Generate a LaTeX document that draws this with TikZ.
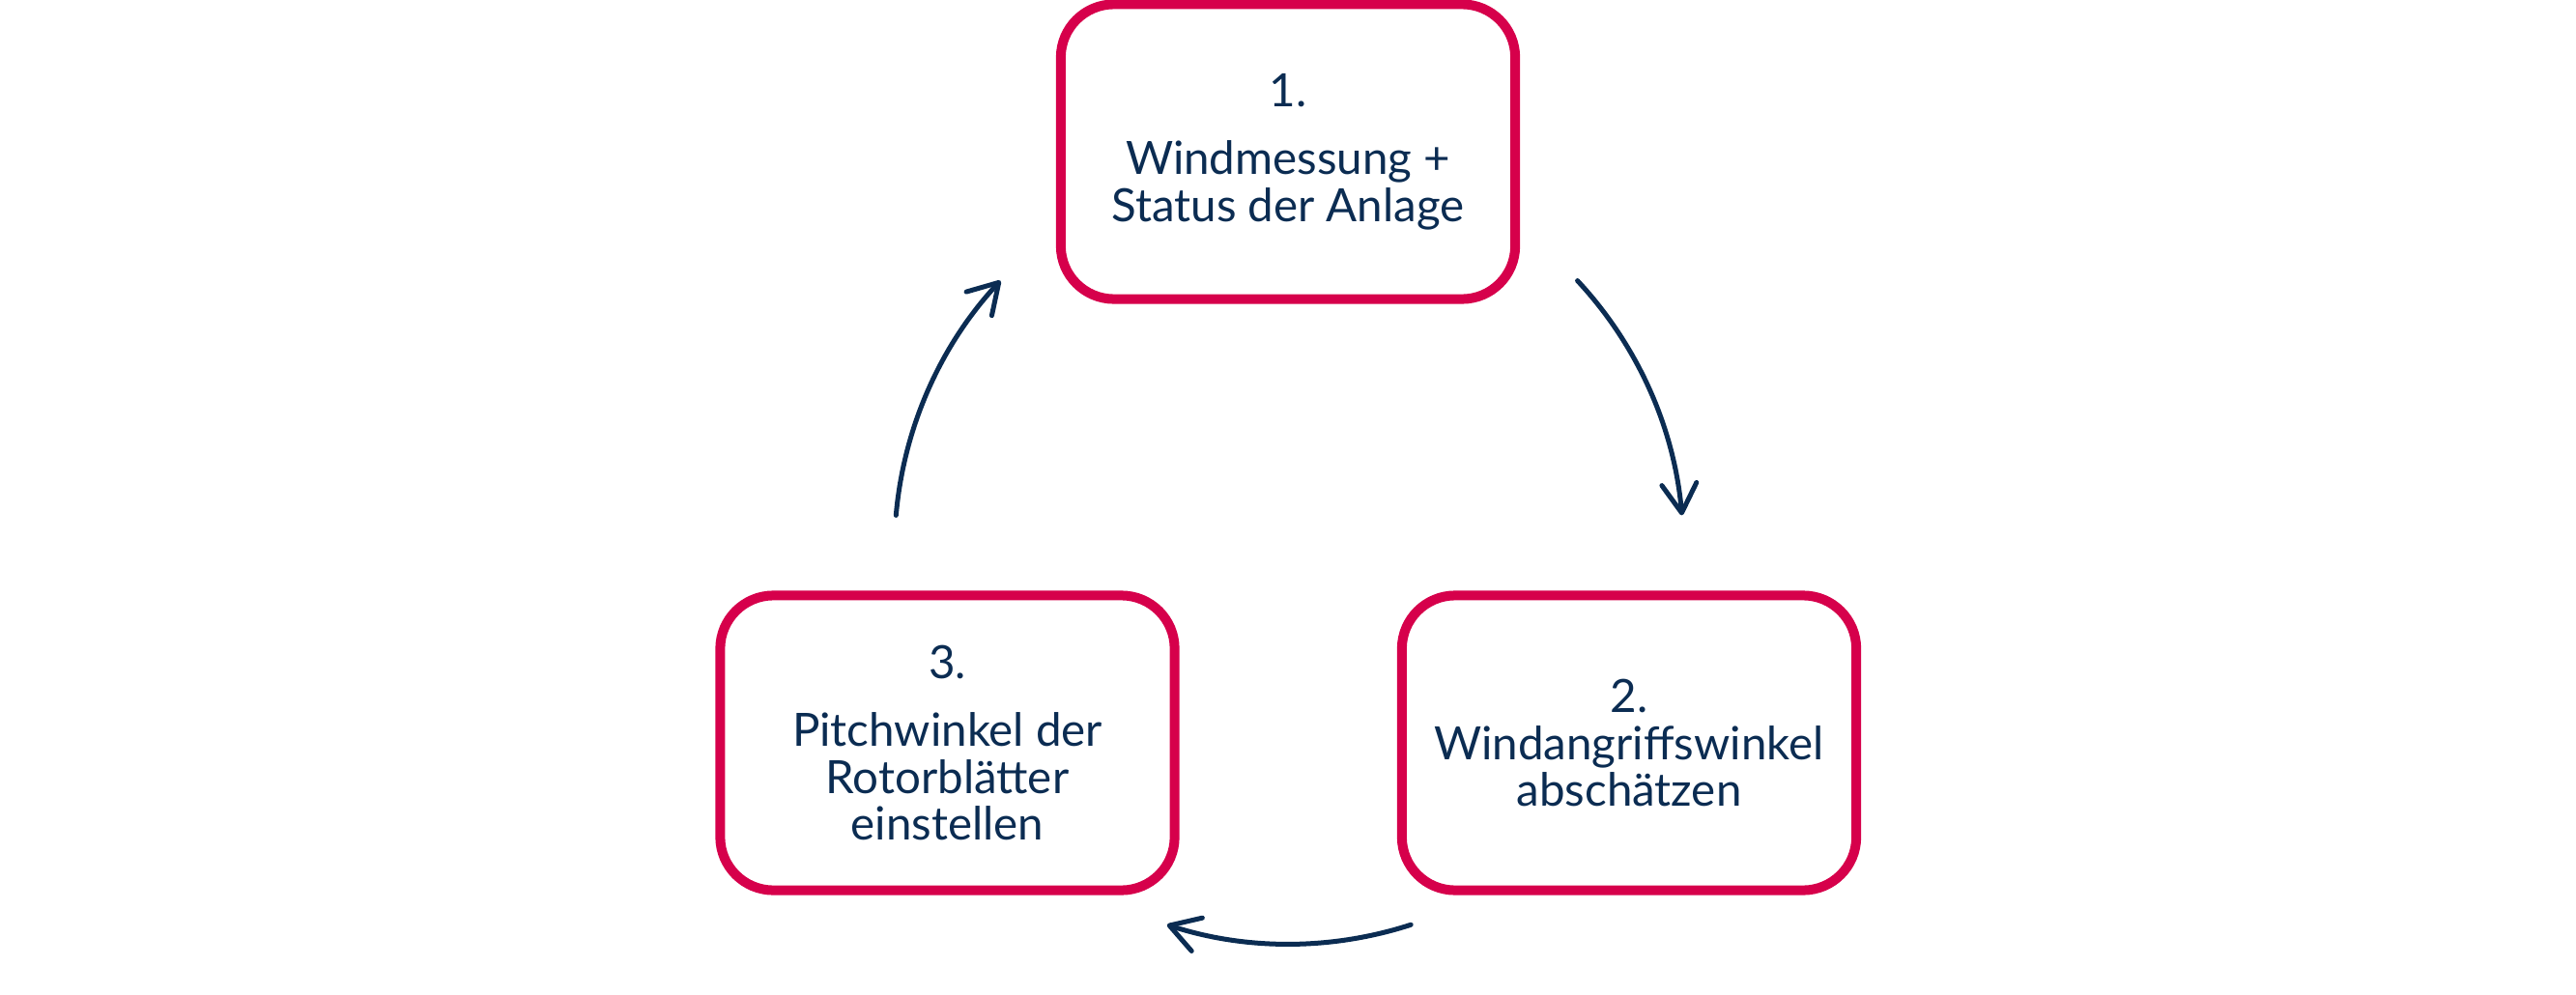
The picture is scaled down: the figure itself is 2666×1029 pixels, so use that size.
\documentclass[tikz,border=0pt]{standalone}
\usepackage{fontspec}
\setmainfont{Lato}
\usetikzlibrary{arrows.meta,calc}
\definecolor{boxred}{HTML}{D6004B}
\definecolor{navy}{HTML}{0B2C52}
\begin{document}
\begin{tikzpicture}[x=0.01cm,y=0.01cm,
  stepbox/.style={draw=boxred, line width=0.1cm, rounded corners=0.55cm,
    minimum width=4.7cm, minimum height=3.05cm, align=center, text=navy,
    font=\fontsize{13.5pt}{13.9pt}\selectfont, inner sep=0pt},
  cyc/.style={draw=navy, line width=0.05cm, line cap=round,
    -{Straight Barb[length=0.3cm,width=0.36cm,round]}}]
\useasboundingbox (0,0) rectangle (2666,1029);
\node[stepbox] (b1) at (1333,872) {1.\\[6pt]Windmessung +\\Status der Anlage};
\node[stepbox] (b2) at (1686,260) {2.\\Windangriffswinkel\\abschätzen};
\node[stepbox] (b3) at (980.5,260) {3.\\[6pt]Pitchwinkel der\\Rotorblätter\\einstellen};
\coordinate (C) at (1334,460);
\coordinate (a1s) at ($(C)+(175:4.08cm)$);
\coordinate (a2s) at ($(C)+(43:4.08cm)$);
\coordinate (a3s) at ($(C)+(-72:4.08cm)$);
\draw[cyc] (a1s) arc[start angle=175, end angle=137, radius=4.08cm];
\draw[cyc] (a2s) arc[start angle=43, end angle=5, radius=4.08cm];
\draw[cyc] (a3s) arc[start angle=-72, end angle=-108, radius=4.08cm];
\end{tikzpicture}
\end{document}
